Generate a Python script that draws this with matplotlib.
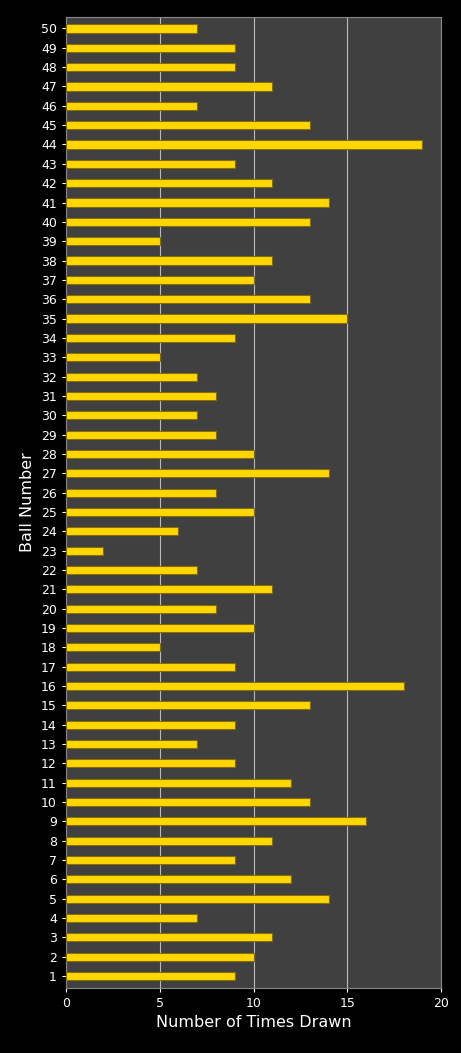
import matplotlib
matplotlib.use("Agg")
import matplotlib.pyplot as plt

balls = list(range(1, 51))
counts = [9,10,11,7,14,12,9,11,16,13,12,9,7,9,13,18,9,5,10,8,
          11,7,2,6,10,8,14,10,8,7,8,7,5,9,15,13,10,11,5,13,
          14,11,9,19,13,7,11,9,9,7]

fig = plt.figure(figsize=(4.61, 10.53), dpi=100, facecolor="black")
ax = fig.add_axes([0.143, 0.062, 0.814, 0.922])
ax.set_facecolor("#404040")
ax.barh(balls, counts, height=0.42, color="#FFD700", edgecolor="#8a6d00", linewidth=0.8, zorder=3)
ax.set_xlim(0, 20)
ax.set_ylim(0.4, 50.6)
ax.set_xticks([0, 5, 10, 15, 20])
ax.set_yticks(balls)
ax.grid(axis="x", color="#bbbbbb", linewidth=0.8, zorder=0)
for s in ax.spines.values():
    s.set_color("#888888")
ax.tick_params(colors="white", labelsize=9, length=3)
ax.set_xlabel("Number of Times Drawn", color="white", fontsize=11.5)
ax.set_ylabel("Ball Number", color="white", fontsize=11.5, labelpad=4)
fig.savefig("out.png", dpi=100, facecolor="black")
